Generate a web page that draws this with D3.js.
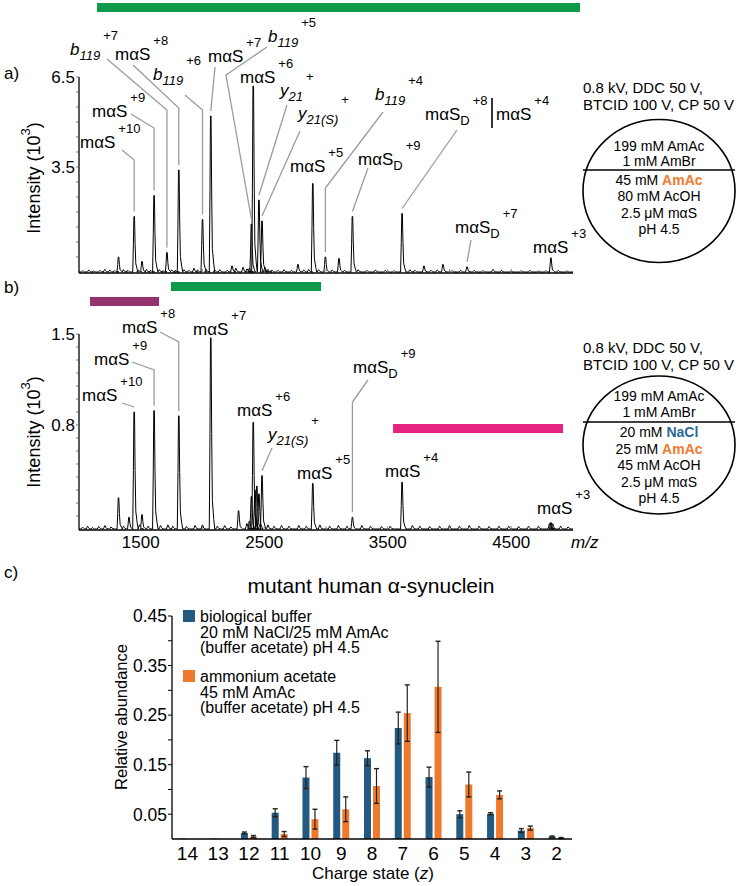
<!DOCTYPE html>
<meta charset="utf-8">
<style>
body { margin: 0; background: #fff; }
svg { font-family: "Liberation Sans", Arial, Helvetica, sans-serif; }
.lead { stroke: #9b9b9b; stroke-width: 1.3; fill: none; }
.axis { stroke: #000; stroke-width: 1.3; fill: none; }
.spec { stroke: #000; stroke-width: 1; fill: none; stroke-linejoin: round; }
</style>
<body>
<script src="https://d3js.org/d3.v7.min.js"></script>
<script>

var width = 736,
    height = 886;

// ---- spectra (m/z, intensity in 10^3) ----
var mzTicks = [1500, 2500, 3500, 4500];
var ticksA = [3.5, 6.5];
var ticksB = [0.8, 1.5];

var peaksA = [[1209, 0.08], [1320, 0.5], [1447, 1.85], [1510, 0.35], [1608, 2.55], [1712, 0.65],
  [1808, 3.4], [1931, 0.12], [2000, 1.75], [2067, 5.2], [2239, 0.2], [2270, 0.12], [2328, 0.15],
  [2396, 1.6], [2411, 6.2], [2457, 2.4], [2482, 1.7], [2506, 0.15], [2773, 0.25], [2893, 2.95],
  [2995, 0.5], [3105, 0.45], [3214, 1.85], [3616, 1.95], [3793, 0.2], [3947, 0.25], [4142, 0.17],
  [4352, 0.08], [4821, 0.47]];

var noiseA = [[1030, 0.04], [1080, 0.06], [1120, 0.03], [1170, 0.05], [1250, 0.06], [1290, 0.04],
  [1360, 0.07], [1395, 0.05], [1480, 0.06], [1545, 0.08], [1580, 0.05], [1650, 0.07], [1680, 0.04],
  [1750, 0.06], [1780, 0.05], [1850, 0.07], [1890, 0.05], [1960, 0.06], [2030, 0.08], [2100, 0.06],
  [2140, 0.07], [2200, 0.05], [2360, 0.1], [2380, 0.12], [2530, 0.08], [2560, 0.06], [2610, 0.05],
  [2660, 0.07], [2720, 0.05], [2820, 0.06], [2860, 0.08], [2940, 0.07], [3050, 0.06], [3150, 0.05],
  [3260, 0.07], [3330, 0.05], [3400, 0.06], [3480, 0.05], [3550, 0.04], [3680, 0.07], [3720, 0.05],
  [3850, 0.05], [3900, 0.06], [4020, 0.04], [4090, 0.05], [4200, 0.05], [4270, 0.04], [4420, 0.05],
  [4500, 0.03], [4580, 0.04], [4650, 0.05], [4720, 0.03], [4780, 0.04], [4880, 0.05], [4950, 0.03]];

var peaksB = [[1320, 0.24], [1405, 0.09], [1447, 0.9], [1510, 0.11], [1608, 0.91], [1808, 0.87],
  [2067, 1.47], [2292, 0.14], [2396, 0.25], [2411, 0.82], [2425, 0.3], [2440, 0.33], [2457, 0.27],
  [2482, 0.41], [2893, 0.35], [3214, 0.09], [3616, 0.36], [4810, 0.04], [4821, 0.05], [4835, 0.04]];

var noiseB = [[1030, 0.012], [1070, 0.02], [1110, 0.01], [1160, 0.018], [1210, 0.025], [1260, 0.015],
  [1360, 0.02], [1490, 0.03], [1560, 0.02], [1660, 0.025], [1720, 0.03], [1760, 0.02], [1870, 0.018],
  [1940, 0.025], [2000, 0.03], [2120, 0.02], [2180, 0.025], [2230, 0.015], [2360, 0.04], [2380, 0.06],
  [2530, 0.03], [2580, 0.02], [2640, 0.025], [2700, 0.02], [2780, 0.025], [2840, 0.02], [2950, 0.03],
  [3030, 0.02], [3100, 0.025], [3170, 0.02], [3290, 0.025], [3360, 0.02], [3450, 0.018], [3520, 0.02],
  [3700, 0.025], [3760, 0.02], [3840, 0.018], [3920, 0.02], [4000, 0.025], [4080, 0.02], [4160, 0.025],
  [4240, 0.02], [4320, 0.018], [4400, 0.02], [4480, 0.02], [4560, 0.018], [4640, 0.02], [4720, 0.02],
  [4900, 0.02], [4960, 0.015]];

// m/z ranges marked by coloured bars
var rangesA = [[1146, 5057]];
var rangesB = [[1089, 1648], [1745, 2960], [3543, 4919]];

// ---- charge state distribution ----
var charges = [14, 13, 12, 11, 10, 9, 8, 7, 6, 5, 4, 3, 2];
var bioMean = [0.001, 0.001, 0.012, 0.053, 0.124, 0.174, 0.163, 0.224, 0.125, 0.05, 0.051, 0.017, 0.005];
var bioErr  = [0, 0, 0.002, 0.008, 0.022, 0.025, 0.015, 0.032, 0.02, 0.007, 0.002, 0.004, 0.001];
var amMean  = [0, 0, 0.005, 0.01, 0.04, 0.06, 0.107, 0.254, 0.307, 0.11, 0.089, 0.022, 0.002];
var amErr   = [0, 0, 0.002, 0.005, 0.02, 0.025, 0.035, 0.057, 0.092, 0.025, 0.008, 0.004, 0.001];
var yTicksC = [0.05, 0.1, 0.15, 0.2, 0.25, 0.3, 0.35, 0.4, 0.45];

var blue = "#255a80", orange = "#f07a2c";

// ---- peak annotations (layout) ----
var labelsA = [
  {mz: 1712, t: "b", sub: "119", sup: "+7", it: true, x: 70, y: 55, s: [107, 59], by: 110},
  {mz: 1808, t: "mαS", sup: "+8", x: 115, y: 60, s: [133, 65], by: 108},
  {mz: 2000, t: "b", sub: "119", sup: "+6", it: true, x: 153, y: 80, s: [185, 95], by: 110},
  {mz: 2067, t: "mαS", sup: "+7", x: 208, y: 62, s: [215, 67]},
  {mz: 2396, t: "b", sub: "119", sup: "+5", it: true, x: 268, y: 42, s: [267, 47], b: [226, 75]},
  {mz: 2411, t: "mαS", sup: "+6", x: 240, y: 83},
  {mz: 2457, t: "y", sub: "21", sup: "+", it: true, x: 280, y: 96, s: [287, 105]},
  {mz: 2482, t: "y", sub: "21(S)", sup: "+", it: true, x: 298, y: 119, s: [300, 131]},
  {mz: 2893, t: "mαS", sup: "+5", x: 290, y: 172},
  {mz: 2995, t: "b", sub: "119", sup: "+4", it: true, x: 375, y: 100, s: [383, 112], by: 188},
  {mz: 3214, t: "mαS", sub: "D", sup: "+9", x: 358, y: 165, s: [368, 168]},
  {mz: 3616, t: "mαS", sub: "D", sup: "+8", x: 425, y: 120, s: [457, 130]},
  {mz: 3616, t: "mαS", sup: "+4", x: 496, y: 120},
  {mz: 4142, t: "mαS", sub: "D", sup: "+7", x: 455, y: 233, s: [471, 240]},
  {mz: 4821, t: "mαS", sup: "+3", x: 533, y: 253},
  {mz: 1608, t: "mαS", sup: "+9", x: 92, y: 117, s: [131, 114], by: 128},
  {mz: 1447, t: "mαS", sup: "+10", x: 80, y: 148, s: [122, 150], by: 160}
];

var labelsB = [
  {mz: 1808, t: "mαS", sup: "+8", x: 122, y: 333, s: [160, 332], by: 342},
  {mz: 1608, t: "mαS", sup: "+9", x: 94, y: 365, s: [132, 362], by: 370},
  {mz: 1447, t: "mαS", sup: "+10", x: 82, y: 401, s: [122, 403]},
  {mz: 2067, t: "mαS", sup: "+7", x: 193, y: 335},
  {mz: 2411, t: "mαS", sup: "+6", x: 237, y: 416},
  {mz: 2482, t: "y", sub: "21(S)", sup: "+", it: true, x: 268, y: 440, s: [272, 448]},
  {mz: 2893, t: "mαS", sup: "+5", x: 297, y: 479},
  {mz: 3214, t: "mαS", sub: "D", sup: "+9", x: 353, y: 373, s: [368, 380], by: 402},
  {mz: 3616, t: "mαS", sup: "+4", x: 385, y: 477},
  {mz: 4821, t: "mαS", sup: "+3", x: 537, y: 514}
];

var svg = d3.select("body").append("svg")
    .attr("width", width)
    .attr("height", height);

var x = d3.scaleLinear().domain([1000, 5000]).range([79, 573]);
var yA = d3.scaleLinear().domain([0, 6.5]).range([272, 77]);
var yB = d3.scaleLinear().domain([0, 1.5]).range([529, 334]);

function spectrum(g, peaks, noise, y) {
  var all = peaks.concat(noise).sort(function(a, b) { return a[0] - b[0]; });
  var y0 = y(0);
  var pts = [[x.range()[0], y0]];
  all.forEach(function(p) {
    var px = x(p[0]), h = p[1];
    pts.push([px - 1.5, y0], [px - 0.8, y(h * 0.5)], [px - 0.3, y(h)], [px + 0.3, y(h)],
      [px + 0.9, y(h * 0.5)], [px + 1.6, y(h * 0.15)], [px + 3, y(h * 0.05)], [px + 4, y0]);
  });
  pts.push([x.range()[1], y0]);
  g.append("path").attr("class", "spec").attr("d", d3.line()(pts));
}

function yAxis(g, y, ticks, step) {
  var d = y.domain();
  g.append("line").attr("class", "axis")
    .attr("x1", x.range()[0]).attr("x2", x.range()[0])
    .attr("y1", y(0) + 1).attr("y2", y(d[1]));
  g.selectAll(".minor").data(d3.range(step, d[1] + 1e-9, step)).enter().append("line")
    .attr("x1", x.range()[0] - 3).attr("x2", x.range()[0])
    .attr("y1", function(v) { return y(v); }).attr("y2", function(v) { return y(v); })
    .attr("stroke", "#555").attr("stroke-width", 0.8);
  g.selectAll(".tl").data(ticks).enter().append("text")
    .attr("x", x.range()[0] - 4).attr("y", function(v) { return y(v); })
    .attr("dy", "0.36em").attr("text-anchor", "end")
    .style("font-size", "17px").text(function(v) { return v; });
  g.append("line").attr("class", "axis").attr("stroke-width", 1.6)
    .attr("x1", x.range()[0]).attr("x2", x.range()[1])
    .attr("y1", y(0) + 1).attr("y2", y(0) + 1);
  g.selectAll(".xt").data(d3.range(1500, 5000, 500)).enter().append("line")
    .attr("x1", function(v) { return x(v); }).attr("x2", function(v) { return x(v); })
    .attr("y1", y(0) + 1).attr("y2", y(0) - 3)
    .attr("stroke", "#777").attr("stroke-width", 0.8);
}

function yTitle(g, cx, cy) {
  var t = g.append("text").attr("transform", "translate(" + cx + "," + cy + ")rotate(-90)")
    .attr("text-anchor", "middle").style("font-size", "18px");
  t.append("tspan").text("Intensity (10");
  t.append("tspan").attr("dy", -10).style("font-size", "13px").text("3");
  t.append("tspan").attr("dy", 10).text(")");
}

function labels(g, list, peaks, y) {
  list.forEach(function(L) {
    var t = g.append("text").attr("x", L.x).attr("y", L.y).style("font-size", "17px");
    var m = t.append("tspan").text(L.t);
    if (L.it) m.style("font-style", "italic");
    var dy = 0;
    if (L.sub) {
      t.append("tspan").attr("dy", 5).style("font-size", "13px")
        .style("font-style", L.it ? "italic" : "normal").text(L.sub);
      dy = 5;
    }
    t.append("tspan").attr("dx", 3).attr("dy", -15 - dy).style("font-size", "13px").text(L.sup);
    if (!L.s) return;
    var pk = peaks.filter(function(p) { return p[0] === L.mz; })[0];
    var px = x(pk[0]), top = y(pk[1]) - 5;
    var pts = [L.s];
    if (L.b) pts.push(L.b);
    if (L.by) pts.push([px, L.by]);
    pts.push([px, top]);
    g.append("path").attr("class", "lead").attr("d", d3.line()(pts));
  });
}

function ranges(g, list, rows, colors) {
  g.selectAll(".rg").data(list).enter().append("rect")
    .attr("x", function(r) { return x(r[0]); })
    .attr("width", function(r) { return x(r[1]) - x(r[0]); })
    .attr("y", function(r, i) { return rows[i]; })
    .attr("height", 9)
    .attr("fill", function(r, i) { return colors[i]; });
}

function buffer(g, cy, top, ry, lines) {
  var t = g.append("text").attr("text-anchor", "start").style("font-size", "15px");
  t.append("tspan").attr("x", 583).attr("y", top).text("0.8 kV, DDC 50 V,");
  t.append("tspan").attr("x", 583).attr("y", top + 17).text("BTCID 100 V, CP 50 V");
  g.append("ellipse").attr("cx", 659).attr("cy", cy).attr("rx", 76).attr("ry", ry)
    .attr("fill", "none").attr("stroke", "#000").attr("stroke-width", 1.6);
  lines.forEach(function(l) {
    if (l.divider) {
      g.append("line").attr("x1", 659 - 76).attr("x2", 659 + 76).attr("y1", l.y).attr("y2", l.y)
        .attr("stroke", "#000").attr("stroke-width", 1.6);
      return;
    }
    var tx = g.append("text").attr("x", 659).attr("y", l.y).attr("text-anchor", "middle")
      .style("font-size", "14px");
    tx.append("tspan").text(l.a);
    if (l.c) tx.append("tspan").attr("fill", l.col).style("font-weight", "bold").text(l.c);
  });
}

// ---- panel a ----
var gA = svg.append("g");
ranges(gA, rangesA, [3], ["#0e9a4a"]);
spectrum(gA, peaksA, noiseA, yA);
yAxis(gA, yA, ticksA, 0.5);
yTitle(gA, 40, 178);
labels(gA, labelsA, peaksA, yA);
gA.append("line").attr("x1", 492).attr("x2", 492).attr("y1", 98).attr("y2", 128)
  .attr("stroke", "#000").attr("stroke-width", 1.6);
gA.append("text").attr("x", 4).attr("y", 79).style("font-size", "17px").text("a)");
buffer(gA, 191, 93, 71.5, [
  {a: "199 mM AmAc", y: 151}, {a: "1 mM AmBr", y: 166}, {divider: true, y: 170},
  {a: "45 mM ", c: "AmAc", col: orange, y: 185}, {a: "80 mM AcOH", y: 201},
  {a: "2.5 μM mαS", y: 218}, {a: "pH 4.5", y: 234}]);

// ---- panel b ----
var gB = svg.append("g");
ranges(gB, rangesB, [297, 282, 424], ["#94336f", "#0e9a4a", "#e6247f"]);
spectrum(gB, peaksB, noiseB, yB);
yAxis(gB, yB, ticksB, 0.1);
yTitle(gB, 40, 432);
labels(gB, labelsB, peaksB, yB);
gB.append("text").attr("x", 4).attr("y", 293).style("font-size", "17px").text("b)");
gB.selectAll(".mzl").data(mzTicks).enter().append("text")
  .attr("x", function(v) { return x(v); }).attr("y", 548)
  .attr("text-anchor", "middle").style("font-size", "17px").text(function(v) { return v; });
gB.append("text").attr("x", 571).attr("y", 548).style("font-size", "17px")
  .style("font-style", "italic").text("m/z");
buffer(gB, 445, 353, 69, [
  {a: "199 mM AmAc", y: 401}, {a: "1 mM AmBr", y: 417}, {divider: true, y: 422},
  {a: "20 mM ", c: "NaCl", col: "#2d6a97", y: 437}, {a: "25 mM ", c: "AmAc", col: orange, y: 454},
  {a: "45 mM AcOH", y: 470}, {a: "2.5 μM mαS", y: 487}, {a: "pH 4.5", y: 503}]);

// ---- panel c ----
var gC = svg.append("g");
var xC = d3.scaleBand().domain(charges).range([172, 572]);
var yC = d3.scaleLinear().domain([0, 0.45]).range([839, 616]);
var bw = 7, off = 4.5;

gC.append("text").attr("x", 4).attr("y", 578).style("font-size", "17px").text("c)");
gC.append("text").attr("x", 371).attr("y", 593).attr("text-anchor", "middle")
  .style("font-size", "21px").text("mutant human α-synuclein");

var series = [
  {mean: bioMean, err: bioErr, color: blue, dx: -off},
  {mean: amMean, err: amErr, color: orange, dx: off}
];
series.forEach(function(s) {
  gC.selectAll(null).data(s.mean).enter().append("rect")
    .attr("x", function(d, i) { return xC(charges[i]) + xC.bandwidth() / 2 + s.dx - bw / 2; })
    .attr("width", bw)
    .attr("y", function(d) { return yC(d); })
    .attr("height", function(d) { return yC(0) - yC(d); })
    .attr("fill", s.color);
  charges.forEach(function(c, i) {
    if (s.err[i] <= 0) return;
    var cx = xC(c) + xC.bandwidth() / 2 + s.dx;
    var lo = yC(s.mean[i] - s.err[i]), hi = yC(s.mean[i] + s.err[i]);
    gC.append("line").attr("x1", cx).attr("x2", cx).attr("y1", lo).attr("y2", hi)
      .attr("stroke", "#222").attr("stroke-width", 1.2);
    [lo, hi].forEach(function(yy) {
      gC.append("line").attr("x1", cx - 2.5).attr("x2", cx + 2.5).attr("y1", yy).attr("y2", yy)
        .attr("stroke", "#222").attr("stroke-width", 1.4);
    });
  });
});

gC.append("line").attr("class", "axis").attr("x1", 172).attr("x2", 172)
  .attr("y1", yC(0)).attr("y2", yC(0.45));
gC.append("line").attr("class", "axis").attr("x1", 172).attr("x2", 572)
  .attr("y1", yC(0)).attr("y2", yC(0));
gC.selectAll(".yt").data(yTicksC).enter().append("line")
  .attr("x1", 168).attr("x2", 172)
  .attr("y1", function(v) { return yC(v); }).attr("y2", function(v) { return yC(v); })
  .attr("stroke", "#000").attr("stroke-width", 1);
gC.selectAll(".ytl").data(yTicksC.filter(function(v, i) { return i % 2 === 0; })).enter().append("text")
  .attr("x", 167).attr("y", function(v) { return yC(v); }).attr("dy", "0.36em")
  .attr("text-anchor", "end").style("font-size", "17.5px")
  .text(function(v) { return d3.format(".2f")(v); });
gC.selectAll(".xtl").data(charges).enter().append("text")
  .attr("x", function(c) { return xC(c) + xC.bandwidth() / 2; }).attr("y", 860)
  .attr("text-anchor", "middle").style("font-size", "19px").text(function(c) { return c; });
gC.append("text").attr("transform", "translate(127,717)rotate(-90)")
  .attr("text-anchor", "middle").style("font-size", "16.5px").text("Relative abundance");
var xl = gC.append("text").attr("x", 373).attr("y", 879).attr("text-anchor", "middle")
  .style("font-size", "17px");
xl.append("tspan").text("Charge state (");
xl.append("tspan").style("font-style", "italic").text("z");
xl.append("tspan").text(")");

// legend
var legend = [
  {color: blue, y: 610, lines: ["biological buffer", "20 mM NaCl/25 mM AmAc", "(buffer acetate) pH 4.5"]},
  {color: orange, y: 670, lines: ["ammonium acetate", "45 mM AmAc", "(buffer acetate) pH 4.5"]}
];
legend.forEach(function(l) {
  gC.append("rect").attr("x", 183).attr("y", l.y).attr("width", 12).attr("height", 12).attr("fill", l.color);
  l.lines.forEach(function(s, i) {
    gC.append("text").attr("x", 200).attr("y", l.y + 12 + i * 15.7)
      .style("font-size", "16px").text(s);
  });
});

</script>
